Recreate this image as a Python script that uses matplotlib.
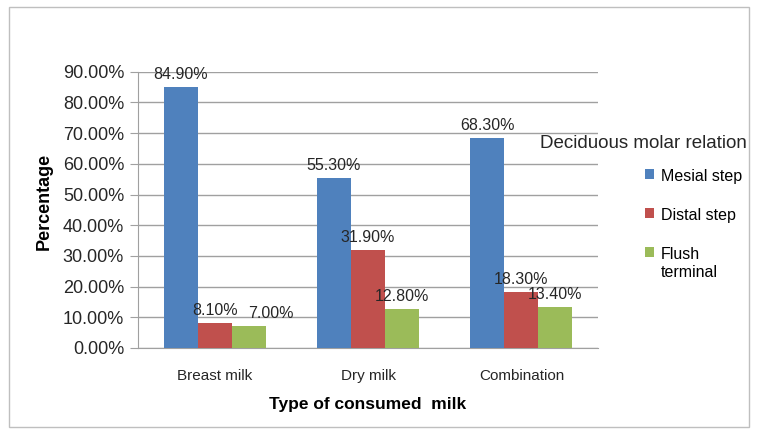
import numpy as np
import matplotlib.pyplot as plt
from matplotlib.patches import Rectangle

plt.rcParams['font.family'] = ['Liberation Sans', 'DejaVu Sans']

## categories and series (percent)
milk_types = ["Breast milk", "Dry milk", "Combination"]
series_names = ["Mesial step", "Distal step", "Flush\nterminal"]
mesial = [84.9, 55.3, 68.3]
distal = [8.1, 31.9, 18.3]
flush = [7.0, 12.8, 13.4]
yticks = [0, 10, 20, 30, 40, 50, 60, 70, 80, 90]

colors = ["#4F81BD", "#C0504D", "#9BBB59"]

fig = plt.figure(figsize=(7.58, 4.30), dpi=100)
ax = fig.add_axes([0.182, 0.191, 0.607, 0.642])

# grey frame round the whole chart
fig.patches.append(Rectangle((0.012, 0.008), 0.976, 0.976, transform=fig.transFigure,
                             fill=False, edgecolor="#BFBFBF", linewidth=1.0))

x = np.arange(len(milk_types))
w = 0.222
all_series = [mesial, distal, flush]

for i, vals in enumerate(all_series):
    pos = x + (i - 1) * w
    ax.bar(pos, vals, width=w, color=colors[i], label=series_names[i], zorder=3)
    for j, v in enumerate(vals):
        dx = 0
        # last small label sits a bit to the right
        if i == 2 and j == 0:
            dx = 16
        ax.annotate(f"{v:.2f}%", (pos[j], v), xytext=(dx, 9), textcoords="offset points",
                    ha="center", va="center", fontsize=11.5, color="#262626", zorder=4)

ax.set_xlim(-0.5, 2.5)
ax.set_ylim(0, 90)
ax.set_yticks(yticks)
ax.set_yticklabels([f"{t:.2f}%" for t in yticks], fontsize=13, color="#262626")
ax.set_xticks(x)
ax.set_xticklabels(milk_types, fontsize=11, color="#262626")
ax.tick_params(axis="x", length=0, pad=15)
ax.tick_params(axis="y", length=6, color="#A0A0A0", pad=4)

ax.grid(axis="y", color="#A0A0A0", linewidth=1.0, zorder=0)
for s in ["top", "right"]:
    ax.spines[s].set_visible(False)
for s in ["left", "bottom"]:
    ax.spines[s].set_color("#A0A0A0")

ax.set_xlabel("Type of consumed  milk", fontsize=12.5, fontweight="bold", labelpad=10)
ax.set_ylabel("Percentage", fontsize=13, fontweight="bold")
ax.yaxis.set_label_coords(-0.185, 0.53)

fig.text(0.712, 0.667, "Deciduous molar relation", fontsize=13.5, color="#262626",
         ha="left", va="center")
leg = ax.legend(loc="upper left", bbox_to_anchor=(0.84, 0.625), bbox_transform=fig.transFigure,
                frameon=False, fontsize=11.5, handlelength=0.6, handleheight=0.6,
                handletextpad=0.4, labelspacing=1.5, borderpad=0)
# put the colour square beside the first line of a wrapped label
for col in leg._legend_handle_box.get_children():
    for item in col.get_children():
        item.align = "top"

fig.savefig("out.png", dpi=100)
